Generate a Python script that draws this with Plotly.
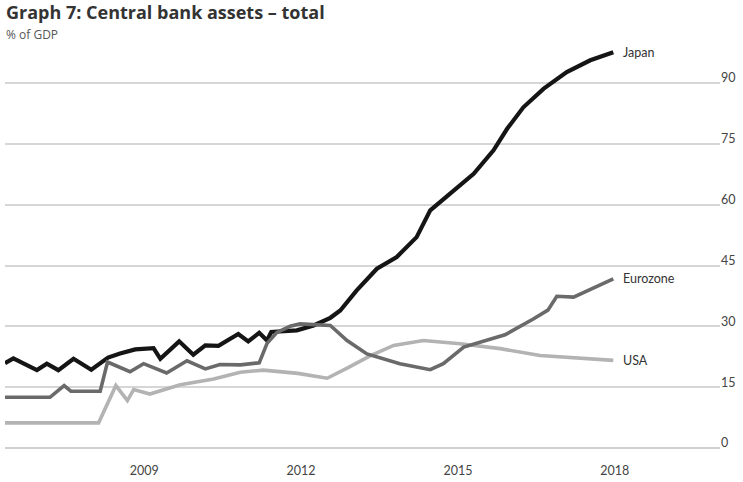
import plotly.graph_objects as go

# Central bank total assets, % of GDP (x in decimal years)
japan_x = [2006.84, 2007.00, 2007.45, 2007.64, 2007.86, 2008.15, 2008.49, 2008.81,
           2009.04, 2009.33, 2009.68, 2009.81, 2010.17, 2010.44, 2010.67, 2010.92,
           2011.30, 2011.49, 2011.70, 2011.85, 2011.93, 2012.14, 2012.42, 2012.74,
           2013.06, 2013.25, 2013.56, 2013.95, 2014.33, 2014.71, 2014.97, 2015.35,
           2015.80, 2016.18, 2016.44, 2016.75, 2017.14, 2017.58, 2018.03, 2018.47]
japan_y = [20.9, 22.1, 19.2, 20.8, 19.2, 22.0, 19.3, 22.3,
           23.3, 24.3, 24.6, 22.0, 26.3, 23.0, 25.3, 25.2,
           28.1, 26.3, 28.4, 26.5, 28.6, 28.8, 29.0, 30.2,
           32.1, 33.9, 38.8, 44.2, 47.1, 52.0, 58.6, 62.7,
           67.6, 73.4, 78.7, 84.0, 88.6, 92.7, 95.6, 97.6]

euro_x = [2006.84, 2007.70, 2007.97, 2008.10, 2008.66, 2008.80, 2009.23, 2009.49,
          2009.93, 2010.32, 2010.67, 2010.95, 2011.34, 2011.70, 2011.85, 2012.04,
          2012.29, 2012.48, 2013.06, 2013.38, 2013.76, 2014.39, 2014.97, 2015.22,
          2015.61, 2015.92, 2016.40, 2016.94, 2017.22, 2017.39, 2017.71, 2018.47]
euro_y = [12.5, 12.5, 15.4, 14.0, 14.0, 21.2, 18.8, 20.8,
          18.5, 21.5, 19.5, 20.6, 20.5, 21.0, 25.8, 28.5,
          30.0, 30.6, 30.2, 26.5, 23.2, 20.8, 19.3, 20.8,
          24.9, 26.1, 27.9, 31.8, 34.0, 37.4, 37.2, 41.7]

usa_x = [2006.84, 2008.63, 2008.96, 2009.18, 2009.30, 2009.61, 2010.19, 2010.83,
         2011.34, 2011.78, 2012.44, 2013.00, 2013.40, 2013.82, 2014.27, 2014.84,
         2015.54, 2016.31, 2017.07, 2017.58, 2018.47]
usa_y = [6.2, 6.2, 15.4, 11.7, 14.4, 13.3, 15.6, 17.0,
         18.7, 19.2, 18.4, 17.2, 19.8, 22.7, 25.3, 26.5,
         25.7, 24.5, 22.8, 22.4, 21.6]

year_ticks = [2009.5, 2012.5, 2015.5, 2018.5]
year_labels = ["2009", "2012", "2015", "2018"]
pct_ticks = [0, 15, 30, 45, 60, 75, 90]

series = [
    ("Japan", japan_x, japan_y, "#151515", 4.2),
    ("USA", usa_x, usa_y, "#b3b3b3", 3.6),
    ("Eurozone", euro_x, euro_y, "#6a6a6a", 3.6),
]

FONT = "Lato, 'Open Sans', sans-serif"
HEAD_FONT = "'Open Sans', Lato, sans-serif"

fig = go.Figure()
for name, xs, ys, color, width in series:
    fig.add_trace(go.Scatter(
        x=xs, y=ys, mode="lines", name=name,
        line=dict(color=color, width=width, shape="linear"),
        hoverinfo="skip",
    ))

# Series labels at the end of each line
for name, xs, ys, color, width in series:
    fig.add_annotation(
        x=xs[-1], y=ys[-1], text=name, showarrow=False,
        xanchor="left", yanchor="middle", xshift=8,
        font=dict(family=FONT, size=12.5, color="#333333"),
    )

# Heading and unit line
fig.add_annotation(
    xref="paper", yref="paper", x=0, y=1, yshift=42, xshift=-1,
    xanchor="left", yanchor="top", showarrow=False,
    text="<b>Graph 7: Central bank assets – total</b>",
    font=dict(family=HEAD_FONT, size=18, color="#333333"),
)
fig.add_annotation(
    xref="paper", yref="paper", x=0, y=1, yshift=16, xshift=-1,
    xanchor="left", yanchor="top", showarrow=False,
    text="% of GDP",
    font=dict(family=HEAD_FONT, size=12, color="#555555"),
)

fig.update_layout(
    width=743, height=482,
    margin=dict(l=5, r=23, t=40, b=34),
    paper_bgcolor="white", plot_bgcolor="white",
    showlegend=False,
    font=dict(family=FONT, size=12, color="#444444"),
    xaxis=dict(
        range=[2006.84, 2020.51],
        tickvals=year_ticks, ticktext=year_labels,
        showgrid=False, zeroline=False, showline=False,
        ticks="", ticklabelstandoff=13,
        tickfont=dict(size=12.5, color="#444444"),
    ),
    yaxis=dict(
        side="right", range=[0, 100.6],
        tickvals=pct_ticks,
        showgrid=True, gridcolor="#d6d6d6", gridwidth=1.5,
        zeroline=True, zerolinecolor="#d0d0d0", zerolinewidth=1.5,
        showline=False, ticks="", ticklabelshift=-5,
        tickfont=dict(size=12.5, color="#444444"),
    ),
)

fig.write_html("out.html")
